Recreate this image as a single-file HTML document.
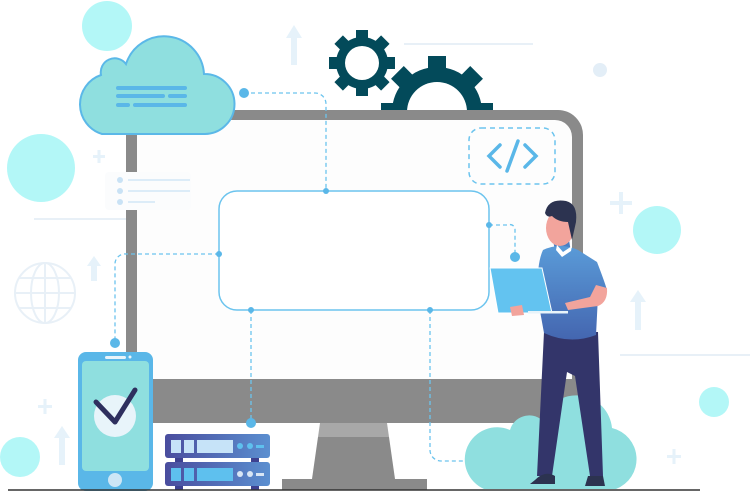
<!DOCTYPE html>
<html><head><meta charset="utf-8"><style>html,body{margin:0;padding:0;background:#fff}svg{display:block}</style></head>
<body>
<svg width="751" height="492" viewBox="0 0 751 492" xmlns="http://www.w3.org/2000/svg">
<defs>
<linearGradient id="shirt" x1="0" y1="0" x2="0" y2="1"><stop offset="0" stop-color="#5a9bd8"/><stop offset="1" stop-color="#4466b0"/></linearGradient>
<linearGradient id="srv" x1="0" y1="0" x2="1" y2="0"><stop offset="0" stop-color="#4a4d9e"/><stop offset="1" stop-color="#5b8fd0"/></linearGradient>
</defs>
<circle cx="107" cy="26" r="25" fill="#b3f7f7"/>
<circle cx="41" cy="168" r="34" fill="#b3f7f7"/>
<circle cx="657" cy="230" r="24" fill="#b3f7f7"/>
<circle cx="714" cy="402" r="15" fill="#b3f7f7"/>
<circle cx="20" cy="457" r="20" fill="#b3f7f7"/>
<circle cx="600" cy="70" r="7" fill="#e3eef7"/>
<g stroke="#e8f0f7" stroke-width="2" fill="none">
<line x1="34" y1="219" x2="126" y2="219"/><line x1="620" y1="355" x2="750" y2="355"/><line x1="404" y1="44" x2="533" y2="44"/>
<circle cx="45" cy="293" r="30"/><ellipse cx="45" cy="293" rx="14" ry="30"/><line x1="45" y1="263" x2="45" y2="323"/><line x1="15" y1="293" x2="75" y2="293"/><line x1="19" y1="278" x2="71" y2="278"/><line x1="19" y1="308" x2="71" y2="308"/>
</g>
<g fill="#e6f2fa">
<polygon points="294,25 302,38 286,38"/><rect x="291" y="38" width="6" height="27"/>
<polygon points="94,256 101,266 87,266"/><rect x="91" y="266" width="6" height="15"/>
<polygon points="638,290 646,302 630,302"/><rect x="635" y="302" width="6" height="28"/>
<polygon points="62,426 70,438 54,438"/><rect x="59" y="438" width="6" height="27"/>
<rect x="93" y="155" width="12" height="3"/><rect x="97.5" y="150" width="3" height="13"/>
<rect x="610" y="201" width="22" height="4"/><rect x="619" y="192" width="4" height="22"/>
<rect x="38" y="405" width="14" height="3"/><rect x="43.5" y="399" width="3" height="15"/>
<rect x="667" y="455" width="14" height="3"/><rect x="672.5" y="449" width="3" height="15"/>
</g>
<g fill="#034a5a">
<circle cx="362" cy="63" r="26"/>
<g transform="translate(362,63)"><rect x="-6" y="-33" width="12" height="12"/><rect x="-6" y="21" width="12" height="12"/><rect x="-33" y="-6" width="12" height="12"/><rect x="21" y="-6" width="12" height="12"/><g transform="rotate(45)"><rect x="-6" y="-33" width="12" height="12"/><rect x="-6" y="21" width="12" height="12"/><rect x="-33" y="-6" width="12" height="12"/><rect x="21" y="-6" width="12" height="12"/></g></g>
<circle cx="437" cy="112" r="45"/>
<g transform="translate(437,112)"><rect x="-9" y="-56" width="18" height="14"/><g transform="rotate(45)"><rect x="-9" y="-56" width="18" height="14"/></g><g transform="rotate(-45)"><rect x="-9" y="-56" width="18" height="14"/></g><rect x="-56" y="-9" width="14" height="18"/><rect x="42" y="-9" width="14" height="18"/></g>
</g>
<circle cx="362" cy="63" r="17" fill="#fff"/>
<circle cx="437" cy="112" r="30" fill="#fff"/>
<path d="M126 110 H558 A25 25 0 0 1 583 135 V423 H126 Z" fill="#8a8a8a"/>
<path d="M137 120 H555 A17 17 0 0 1 572 137 V379 H137 Z" fill="#fdfdfd"/>
<polygon points="320,423 387,423 389,437 318,437" fill="#a8a8a8"/>
<polygon points="318,437 389,437 395,479 312,479" fill="#8a8a8a"/>
<rect x="282" y="479" width="145" height="11" fill="#8a8a8a"/>
<rect x="469" y="128" width="86" height="56" rx="12" fill="none" stroke="#6cc4ee" stroke-width="1.5" stroke-dasharray="5 4"/>
<g stroke="#5ab7e8" stroke-width="3.5" stroke-linecap="round" fill="none"><polyline points="500,145 489,156 500,167"/><polyline points="525,145 536,156 525,167"/><line x1="518" y1="141" x2="507" y2="171"/></g>
<rect x="105" y="172" width="86" height="38" rx="4" fill="#fbfcfd"/>
<g fill="#c9e2f5"><circle cx="120" cy="180" r="3"/><circle cx="120" cy="191" r="3"/><circle cx="120" cy="202" r="3"/></g>
<g stroke="#c9e2f5" stroke-width="1.2"><line x1="128" y1="180" x2="190" y2="180"/><line x1="128" y1="191" x2="190" y2="191"/><line x1="128" y1="202" x2="155" y2="202"/></g>
<rect x="219" y="191" width="270" height="119" rx="18" fill="#fff" stroke="#6cc4ee" stroke-width="1.5"/>
<g fill="none" stroke="#6cc4ee" stroke-width="1.3" stroke-dasharray="4 3">
<path d="M244 93 H315 A11 11 0 0 1 326 104 V191"/>
<path d="M489 225 H508 A5 5 0 0 1 515 230 V257"/>
<path d="M219 254 H126 A10 10 0 0 0 115 264 V343"/>
<path d="M251 310 V423"/>
<path d="M430 310 V450 A11 11 0 0 0 441 461 H471"/>
</g>
<g fill="#5ab7e8"><circle cx="244" cy="93" r="5"/><circle cx="326" cy="191" r="3"/><circle cx="489" cy="225" r="3"/><circle cx="515" cy="257" r="5"/><circle cx="219" cy="254" r="3"/><circle cx="115" cy="343" r="5"/><circle cx="251" cy="310" r="3"/><circle cx="251" cy="423" r="5"/><circle cx="430" cy="310" r="3"/><circle cx="471" cy="461" r="5"/></g>
<path d="M102 134 A31 31 0 0 1 101 75 A14 14 0 0 1 126 64 A40 40 0 0 1 204 74 A30 30 0 0 1 205 134 Z" fill="#8fdfdf" stroke="#5bb8e8" stroke-width="2"/>
<g stroke="#5ab7e8" stroke-width="4" stroke-linecap="round"><line x1="118" y1="88" x2="185" y2="88"/><line x1="118" y1="96" x2="163" y2="96"/><line x1="170" y1="96" x2="185" y2="96"/><line x1="118" y1="105" x2="128" y2="105"/><line x1="135" y1="105" x2="185" y2="105"/></g>
<rect x="78" y="352" width="75" height="139" rx="8" fill="#5ab7e8"/>
<rect x="82" y="361" width="67" height="110" rx="4" fill="#8fdfdf"/>
<rect x="105" y="356" width="21" height="3" rx="1.5" fill="#e8f4fa"/><circle cx="130" cy="357" r="1.5" fill="#e8f4fa"/>
<circle cx="115" cy="416" r="21" fill="#e8f4fa"/>
<polyline points="96,402 115,422 135,390" fill="none" stroke="#2e2f5e" stroke-width="5" stroke-linecap="round" stroke-linejoin="round"/>
<circle cx="115" cy="480" r="7" fill="#cde6f6"/>
<rect x="175" y="456" width="8" height="8" fill="#3e4190"/><rect x="251" y="456" width="8" height="8" fill="#3e4190"/><rect x="175" y="484" width="8" height="6" fill="#3e4190"/><rect x="251" y="484" width="8" height="6" fill="#3e4190"/>
<rect x="165" y="434" width="105" height="24" rx="3" fill="url(#srv)"/>
<rect x="165" y="462" width="105" height="24" rx="3" fill="url(#srv)"/>
<g fill="#c6e3f8"><rect x="171" y="440" width="10" height="13"/><rect x="184" y="440" width="10" height="13"/><rect x="197" y="440" width="36" height="13"/></g>
<g fill="#5ec0ee"><circle cx="240" cy="446" r="3"/><circle cx="250" cy="446" r="3"/><rect x="256" y="445" width="8" height="3"/></g>
<g fill="#5ec0ee"><rect x="171" y="468" width="10" height="13"/><rect x="184" y="468" width="10" height="13"/><rect x="197" y="468" width="36" height="13"/></g>
<g fill="#d8e6f5"><circle cx="240" cy="474" r="3"/><circle cx="250" cy="474" r="3"/><rect x="256" y="473" width="8" height="3"/></g>
<path d="M484 489 A28 28 0 0 1 510 430 A20 20 0 0 1 542 420 A36 36 0 0 1 612 428 A32 32 0 0 1 616 489 Z" fill="#8fdfdf"/>
<line x1="8" y1="490" x2="700" y2="490" stroke="#333" stroke-width="1.5"/>
<path d="M544 332 L537 476 L552 476 L567 372 L575 376 L590 476 L603 476 L598 332 Z" fill="#33356a"/>
<path d="M535 480 Q545 470 555 476 L555 484 L530 484 Z M588 476 L603 476 L605 486 L585 486 Z" fill="#2c3350"/>
<path d="M553 240 L569 240 L571 252 L556 256 Z" fill="#4a7fc4"/>
<ellipse cx="560" cy="228" rx="14" ry="18" fill="#f2a49c"/>
<path d="M545 213 Q548 198 566 201 Q578 204 576 222 L572 240 L568 222 Q558 222 552 216 Q547 218 545 213 Z" fill="#2c3350"/>
<path d="M543 250 Q560 242 578 250 L597 262 Q604 280 607 290 L598 296 L596 335 Q570 345 544 333 L538 300 Q536 265 543 250 Z" fill="url(#shirt)"/>
<path d="M557 245 L563 252 L572 246 L571 251 L562 257 L556 250 Z" fill="#fff"/>
<path d="M596 285 L607 288 Q608 302 598 306 L568 310 L565 303 L590 297 Z" fill="#f2a49c"/>
<polygon points="490,268 542,268 552,313 498,313" fill="#63c3f0" stroke="#fff" stroke-width="1"/>
<rect x="528" y="311" width="40" height="2.5" fill="#e8f4fa"/>
<path d="M510 307 L522 305 L524 315 L512 316 Z" fill="#f2a49c"/>
</svg>
</body></html>
